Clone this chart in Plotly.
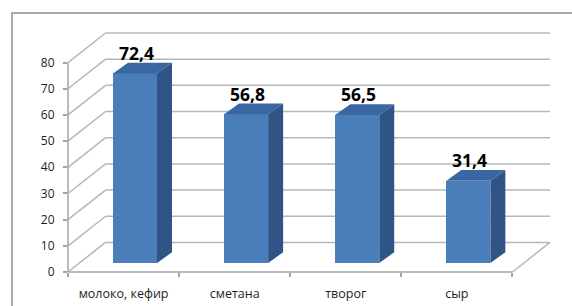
import plotly.graph_objects as go

# ---- data ----
categories = ["молоко, кефир", "сметана", "творог", "сыр"]
values = [72.4, 56.8, 56.5, 31.4]
y_ticks = [0, 10, 20, 30, 40, 50, 60, 70, 80]
value_labels = [f"{v:.1f}".replace(".", ",") for v in values]

# ---- oblique 3D geometry (data units) ----
N = len(categories)
DX, DY = 0.338, 11.3            # depth of the whole chart box
XMAX, YMAX = N + DX, y_ticks[-1] + DY
F = 0.305                        # depth fraction of bar front faces
OX, OY = F * DX, F * DY
BW = 0.396                       # bar width
SX, SY = 0.135, 4.1              # bar depth

FRONT = "#4a7ebb"
SIDE = "#2f5485"
TOP = "#3a66a2"
GRID = "#b7b7b7"
AXIS = "#a3a3a3"

front_c = [i + 0.5 + OX for i in range(N)]


def px(x):
    return x / XMAX


def py(y):
    return y / YMAX


shapes = []
gl = dict(color=GRID, width=1.5)
for v in y_ticks:
    shapes.append(dict(type="line", xref="paper", yref="paper", layer="below",
                       x0=px(DX), y0=py(v + DY), x1=px(N + DX), y1=py(v + DY), line=gl))
    shapes.append(dict(type="line", xref="paper", yref="paper", layer="below",
                       x0=px(0), y0=py(v), x1=px(DX), y1=py(v + DY), line=gl))
al = dict(color=AXIS, width=1.5)
shapes.append(dict(type="line", xref="paper", yref="paper", layer="below",
                   x0=px(0), y0=py(0), x1=px(N), y1=py(0), line=al))
shapes.append(dict(type="line", xref="paper", yref="paper", layer="below",
                   x0=px(N), y0=py(0), x1=px(N + DX), y1=py(DY), line=gl))
shapes.append(dict(type="line", xref="paper", yref="paper", layer="below",
                   x0=px(0), y0=py(0), x1=px(0), y1=py(y_ticks[-1]), line=al))
# outer frame
shapes.append(dict(type="rect", xref="paper", yref="paper", layer="below",
                   x0=(12 - 68) / 482, y0=-0.5, x1=1.3, y1=(272 - 13) / 239,
                   line=dict(color="#8f8f8f", width=1.5)))

fig = go.Figure()
fig.add_trace(go.Bar(x=front_c, y=values, base=[OY] * N, width=BW,
                     marker=dict(color=FRONT, line=dict(width=0)),
                     hoverinfo="skip", showlegend=False))

for i, v in enumerate(values):
    xl = front_c[i] - BW / 2
    xr = front_c[i] + BW / 2
    top = OY + v
    fig.add_trace(go.Scatter(x=[xr, xr + SX, xr + SX, xr, xr],
                             y=[OY, OY + SY, top + SY, top, OY],
                             mode="lines", fill="toself", fillcolor=SIDE,
                             line=dict(width=0, color=SIDE), hoverinfo="skip", showlegend=False))
    fig.add_trace(go.Scatter(x=[xl, xr, xr + SX, xl + SX, xl],
                             y=[top, top, top + SY, top + SY, top],
                             mode="lines", fill="toself", fillcolor=TOP,
                             line=dict(width=0, color=TOP), hoverinfo="skip", showlegend=False))

annotations = []
for i, v in enumerate(values):
    annotations.append(dict(x=front_c[i] + SX * 0.1, y=OY + v + SY, xref="x", yref="y",
                            text=value_labels[i], showarrow=False, yanchor="bottom",
                            yshift=-4,
                            font=dict(family="Open Sans", size=17.5, color="#000000", weight="bold")))

fig.update_layout(
    width=572, height=306, autosize=False,
    margin=dict(l=68, r=22, t=33, b=34, pad=0, autoexpand=False),
    paper_bgcolor="white", plot_bgcolor="rgba(0,0,0,0)",
    shapes=shapes, annotations=annotations,
    xaxis=dict(range=[0, XMAX], tickmode="array", automargin=False,
               tickvals=[i + 0.5 for i in range(N)], ticktext=categories,
               ticks="", showgrid=False, zeroline=False, showline=False,
               ticklabelstandoff=12,
               tickfont=dict(family="Open Sans", size=12.5, color="#1e1e1e"),
               minor=dict(tickmode="array", tickvals=list(range(N + 1)), ticks="outside",
                          ticklen=4, tickwidth=1.5, tickcolor=AXIS, showgrid=False),
               fixedrange=True),
    yaxis=dict(range=[0, YMAX], tickmode="array", tickvals=y_ticks, automargin=False,
               ticks="outside", ticklen=4, tickwidth=1.5, tickcolor=AXIS,
               showgrid=False, zeroline=False, showline=False,
               ticklabelstandoff=6,
               tickfont=dict(family="Open Sans", size=12, color="#1e1e1e"),
               fixedrange=True),
    bargap=0,
)

fig.write_html(
    "out.html",
    config={"displayModeBar": False},
    post_script="document.body.style.margin='0';document.documentElement.style.overflow='hidden';document.body.style.overflow='hidden';",
)
